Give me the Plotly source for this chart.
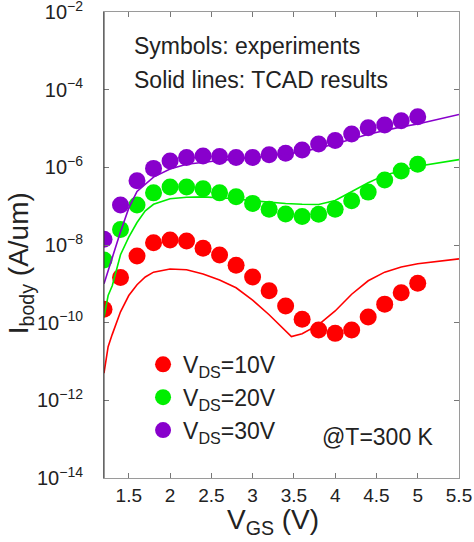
import plotly.graph_objects as go

# ---- data ----
vgs_exp = [1.2, 1.4, 1.6, 1.8, 2.0, 2.2, 2.4, 2.6, 2.8, 3.0,
           3.2, 3.4, 3.6, 3.8, 4.0, 4.2, 4.4, 4.6, 4.8, 5.0]
exp_10v = [2.2e-10, 1.45e-9, 5.2e-9, 1.15e-8, 1.35e-8, 1.26e-8, 8.2e-9, 5.5e-9, 3.0e-9, 1.5e-9,
           6.6e-10, 2.7e-10, 1.23e-10, 6.5e-11, 5.3e-11, 6.5e-11, 1.4e-10, 3.0e-10, 5.9e-10, 1.03e-9]
exp_20v = [4.1e-9, 2.5e-8, 1.07e-7, 2.2e-7, 3.1e-7, 3.1e-7, 2.8e-7, 2.2e-7, 1.75e-7, 1.18e-7,
           8.3e-8, 6.3e-8, 5.4e-8, 6.2e-8, 8.3e-8, 1.38e-7, 2.3e-7, 4.7e-7, 8.1e-7, 1.2e-6]
exp_30v = [1.41e-8, 1.07e-7, 4.5e-7, 9.4e-7, 1.45e-6, 1.8e-6, 1.96e-6, 1.9e-6, 1.8e-6, 1.8e-6,
           2.1e-6, 2.3e-6, 2.8e-6, 4.0e-6, 4.9e-6, 7.2e-6, 1.05e-5, 1.23e-5, 1.58e-5, 2.0e-5]

vgs_tcad_10v = [1.2, 1.25, 1.3, 1.4, 1.5, 1.6, 1.7, 1.8, 2.0, 2.2, 2.4, 2.6, 2.8, 3.0,
                3.2, 3.4, 3.47, 3.6, 3.8, 4.0, 4.2, 4.4, 4.6, 4.8, 5.0, 5.5]
tcad_10v = [5.0e-12, 2.4e-11, 5.0e-11, 1.9e-10, 5.0e-10, 9.5e-10, 1.5e-9, 2.0e-9, 2.4e-9, 2.3e-9,
            1.8e-9, 1.26e-9, 7.9e-10, 3.8e-10, 1.6e-10, 6.3e-11, 4.4e-11, 5.2e-11, 8.9e-11,
            2.0e-10, 5.4e-10, 1.2e-9, 2.0e-9, 2.7e-9, 3.3e-9, 4.4e-9]

vgs_tcad_20v = [1.2, 1.25, 1.3, 1.4, 1.5, 1.6, 1.7, 1.8, 2.0, 2.2, 2.4, 2.6, 2.8, 3.0,
                3.2, 3.4, 3.6, 3.8, 4.0, 4.2, 4.4, 4.6, 4.8, 5.0, 5.5]
tcad_20v = [1.4e-10, 5.0e-10, 8.9e-10, 5.6e-9, 1.6e-8, 3.8e-8, 7.6e-8, 1.12e-7, 1.55e-7, 1.7e-7,
            1.74e-7, 1.66e-7, 1.55e-7, 1.38e-7, 1.26e-7, 1.17e-7, 1.12e-7, 1.10e-7, 1.4e-7,
            2.4e-7, 4.0e-7, 6.3e-7, 8.3e-7, 1.07e-6, 1.58e-6]

vgs_tcad_30v = [1.2, 1.3, 1.4, 1.5, 1.6, 1.8, 2.0, 2.2, 2.6, 3.0, 3.4, 3.6, 4.0, 4.4, 4.8, 5.0, 5.5]
tcad_30v = [1.0e-9, 5.0e-9, 2.2e-8, 8.9e-8, 2.4e-7, 5.6e-7, 9.1e-7, 1.2e-6, 1.5e-6, 1.78e-6,
            2.2e-6, 2.5e-6, 4.0e-6, 7.1e-6, 1.1e-5, 1.3e-5, 2.3e-5]

series_names = ["V<sub>DS</sub>=10V", "V<sub>DS</sub>=20V", "V<sub>DS</sub>=30V"]
colors = ["#ff0000", "#00ee00", "#8800cc"]

x_ticks = [1.5, 2, 2.5, 3, 3.5, 4, 4.5, 5, 5.5]
y_tickvals = [1e-14, 1e-12, 1e-10, 1e-8, 1e-6, 1e-4, 1e-2]
y_ticktext = ["10<sup>\u221214</sup>", "10<sup>\u221212</sup>", "10<sup>\u221210</sup>",
              "10<sup>\u22128</sup>", "10<sup>\u22126</sup>", "10<sup>\u22124</sup>", "10<sup>\u22122</sup>"]

FONT = "Liberation Sans, Arial, Helvetica, sans-serif"

fig = go.Figure()
for name, ys, c in zip(series_names, [exp_10v, exp_20v, exp_30v], colors):
    fig.add_trace(go.Scatter(x=vgs_exp, y=ys, mode="markers", name=name,
                             marker=dict(color=c, size=17, line=dict(width=0))))
for xs, ys, c in zip([vgs_tcad_10v, vgs_tcad_20v, vgs_tcad_30v],
                     [tcad_10v, tcad_20v, tcad_30v], colors):
    fig.add_trace(go.Scatter(x=xs, y=ys, mode="lines", showlegend=False,
                             line=dict(color=c, width=1.6)))

axis_common = dict(showline=True, linecolor="#9a9a9a", linewidth=1, mirror="ticks",
                   ticks="inside", ticklen=5, tickcolor="#777", showgrid=False,
                   zeroline=False, ticklabeloverflow="allow", automargin=False)
fig.update_xaxes(range=[1.2, 5.5], tickvals=x_ticks,
                 tickfont=dict(family=FONT, size=19, color="#222"), **axis_common)
fig.update_yaxes(type="log", range=[-14.0005, -1.9995], tickvals=y_tickvals, ticktext=y_ticktext,
                 tickfont=dict(family=FONT, size=20, color="#222"), ticklabelstandoff=16,
                 **axis_common)

fig.add_shape(type="line", xref="paper", yref="paper", x0=0, x1=0, y0=0, y1=1,
              line=dict(color="#333", width=1))

ann_font = dict(family=FONT, size=23, color="#222")
fig.add_annotation(xref="paper", yref="paper", x=0.08, y=0.928, xanchor="left", yanchor="middle",
                   text="Symbols: experiments", showarrow=False, font=ann_font)
fig.add_annotation(xref="paper", yref="paper", x=0.08, y=0.855, xanchor="left", yanchor="middle",
                   text="Solid lines: TCAD results", showarrow=False, font=ann_font)
fig.add_annotation(xref="paper", yref="paper", x=0.608, y=0.088, xanchor="left", yanchor="middle",
                   text="@T=300 K", showarrow=False, font=ann_font)
# axis titles
fig.add_annotation(xref="paper", yref="paper", x=-0.235, y=0.46, xanchor="center", yanchor="middle",
                   text="I<sub>body</sub> (A/um)", textangle=-90, showarrow=False,
                   font=dict(family=FONT, size=28, color="#222"))
fig.add_annotation(xref="paper", yref="paper", x=0.475, y=-0.093, xanchor="center", yanchor="middle",
                   text="V<sub>GS</sub> (V)", showarrow=False,
                   font=dict(family=FONT, size=28, color="#222"))

fig.update_layout(
    width=474, height=542,
    margin=dict(l=104, r=15, t=12, b=64, autoexpand=False),
    plot_bgcolor="white", paper_bgcolor="white",
    showlegend=True,
    legend=dict(x=0.11, y=0.29, xanchor="left", yanchor="top", bgcolor="rgba(0,0,0,0)",
                font=dict(family=FONT, size=23, color="#222"), itemsizing="trace",
                tracegroupgap=0),
)

fig.write_html("out.html")
